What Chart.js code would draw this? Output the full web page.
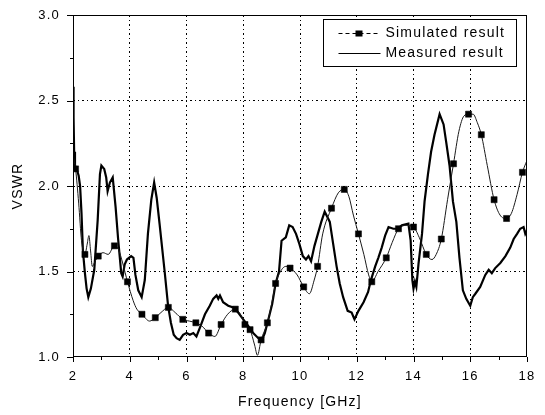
<!DOCTYPE html>
<html>
<head>
<meta charset="utf-8">
<script src="https://cdn.jsdelivr.net/npm/chart.js@4/dist/chart.umd.min.js"></script>
<style>
  html, body { margin: 0; padding: 0; background: #fff; }
  #wrap { width: 545px; height: 415px; }
</style>
</head>
<body>
<div id="wrap"><canvas id="chartVswr" width="545" height="415"></canvas></div>
<script>
// ============================================================
// VSWR vs frequency (Chart.js)
// ============================================================
Chart.defaults.color       = '#000';
Chart.defaults.font.family = '"Liberation Sans", Arial, sans-serif';

// ── data ─────────────────────────────────────────────────────────────────────
// measured curve (GHz / VSWR)
const measFreq = [
  2.00, 2.02, 2.04, 2.07, 2.13, 2.20, 2.25, 2.30, 2.35, 2.42, 2.48, 2.54, 2.63, 2.75,
  2.87, 2.95, 3.00, 3.10, 3.17, 3.22, 3.30, 3.40, 3.50, 3.59, 3.70, 3.75, 3.82, 3.90,
  4.05, 4.13, 4.20, 4.30, 4.42, 4.53, 4.64, 4.76, 4.86, 4.95, 5.05, 5.23, 5.35, 5.45,
  5.55, 5.65, 5.76, 5.88, 6.00, 6.12, 6.24, 6.35, 6.47, 6.65, 6.82, 6.94, 7.06, 7.12,
  7.18, 7.29, 7.47, 7.65, 7.82, 8.00, 8.18, 8.35, 8.53, 8.66, 8.76, 8.90, 9.02, 9.14,
  9.26, 9.35, 9.50, 9.62, 9.74, 9.86, 9.98, 10.10, 10.21, 10.30, 10.39, 10.51, 10.63,
  10.75, 10.87, 10.96, 11.05, 11.17, 11.29, 11.40, 11.52, 11.68, 11.82, 11.92, 12.06,
  12.24, 12.40, 12.50, 12.65, 12.76, 12.88, 13.00, 13.12, 13.29, 13.44, 13.59, 13.82,
  13.90, 13.96, 14.00, 14.05, 14.10, 14.18, 14.30, 14.39, 14.51, 14.62, 14.74, 14.92,
  15.06, 15.15, 15.27, 15.39, 15.51, 15.62, 15.74, 15.86, 16.00, 16.09, 16.18, 16.35,
  16.53, 16.65, 16.76, 16.88, 17.06, 17.24, 17.41, 17.53, 17.65, 17.76, 17.88, 17.94, 18.00
];
const measVswr = [
  2.58, 2.40, 2.20, 2.12, 2.10, 2.06, 2.00, 1.84, 1.62, 1.49, 1.40, 1.35, 1.40, 1.51,
  1.80, 2.07, 2.12, 2.10, 2.05, 1.97, 2.02, 2.05, 1.88, 1.69, 1.49, 1.47, 1.54, 1.57,
  1.59, 1.58, 1.48, 1.39, 1.35, 1.45, 1.72, 1.92, 2.02, 1.93, 1.78, 1.50, 1.30, 1.20,
  1.13, 1.11, 1.10, 1.13, 1.14, 1.13, 1.14, 1.12, 1.17, 1.25, 1.30, 1.34, 1.36, 1.34,
  1.36, 1.32, 1.30, 1.29, 1.26, 1.22, 1.18, 1.14, 1.11, 1.10, 1.14, 1.23, 1.31, 1.43,
  1.50, 1.68, 1.70, 1.77, 1.76, 1.72, 1.66, 1.59, 1.57, 1.59, 1.56, 1.65, 1.72,
  1.79, 1.85, 1.82, 1.79, 1.66, 1.53, 1.43, 1.35, 1.27, 1.26, 1.22, 1.27,
  1.32, 1.38, 1.45, 1.53, 1.58, 1.64, 1.71, 1.76, 1.75, 1.75, 1.77, 1.78,
  1.68, 1.45, 1.40, 1.44, 1.41, 1.55, 1.72, 1.91, 2.07, 2.20, 2.30, 2.42,
  2.36, 2.26, 2.12, 1.91, 1.79, 1.58, 1.39, 1.34, 1.30, 1.35, 1.37, 1.41,
  1.48, 1.51, 1.49, 1.52, 1.55, 1.59, 1.64, 1.69, 1.72, 1.75, 1.76, 1.72, 1.74
];

// simulated curve (GHz / VSWR)
const simFreq = [
  2.00, 2.09, 2.20, 2.30, 2.42, 2.50, 2.56, 2.62, 2.68, 2.78, 2.89, 3.06, 3.24, 3.46,
  3.60, 3.75, 3.92, 4.12, 4.25, 4.43, 4.70, 4.90, 5.10, 5.36, 5.60, 5.87, 6.10, 6.33,
  6.55, 6.78, 7.00, 7.22, 7.45, 7.72, 7.90, 8.06, 8.24, 8.40, 8.50, 8.63, 8.85, 9.00,
  9.14, 9.35, 9.50, 9.65, 9.90, 10.13, 10.33, 10.50, 10.62, 10.80, 11.11, 11.35, 11.56,
  11.72, 11.88, 12.06, 12.25, 12.42, 12.53, 12.75, 13.04, 13.25, 13.47, 13.70, 14.00,
  14.20, 14.45, 14.65, 14.80, 14.98, 15.20, 15.41, 15.60, 15.78, 15.94, 16.10, 16.25,
  16.39, 16.60, 16.84, 17.05, 17.28, 17.45, 17.65, 17.84, 18.00
];
const simVswr = [
  2.18, 2.10, 1.90, 1.68, 1.60, 1.66, 1.71, 1.62, 1.53, 1.56, 1.59, 1.61, 1.60, 1.65,
  1.63, 1.55, 1.44, 1.33, 1.28, 1.25, 1.21, 1.23, 1.26, 1.29, 1.26, 1.22, 1.21, 1.20,
  1.18, 1.14, 1.12, 1.19, 1.25, 1.28, 1.25, 1.19, 1.16, 1.07, 1.01, 1.10, 1.20, 1.31,
  1.43, 1.51, 1.53, 1.52, 1.48, 1.41, 1.37, 1.45, 1.53, 1.72, 1.87, 1.96, 1.98,
  1.94, 1.83, 1.72, 1.60, 1.48, 1.44, 1.50, 1.58, 1.67, 1.75, 1.77, 1.76,
  1.70, 1.60, 1.57, 1.60, 1.69, 1.92, 2.13, 2.32, 2.41, 2.42, 2.42, 2.37,
  2.30, 2.12, 1.92, 1.83, 1.81, 1.84, 1.95, 2.08, 2.15
];
// frequencies of the simulated samples that carry a square symbol
const simMarkers = [
  2.09, 2.42, 2.89, 3.46, 3.92, 4.43, 4.90, 5.36, 5.87, 6.33, 6.78, 7.22, 7.72, 8.06,
  8.24, 8.63, 8.85, 9.14, 9.65, 10.13, 10.62, 11.11, 11.56, 12.06, 12.53, 13.04, 13.47,
  14.00, 14.45, 14.98, 15.41, 15.94, 16.39, 16.84, 17.28, 17.84
];

const xMajor = [2, 4, 6, 8, 10, 12, 14, 16, 18];
const yMajor = [1.0, 1.5, 2.0, 2.5, 3.0];

const legendItems = ['Simulated result', 'Measured result'];

const toXY = (fs, vs) => fs.map((f, i) => ({ x: f, y: vs[i] }));
const isMajor = (list, v) => list.some(m => Math.abs(m - v) < 1e-6);

// ── frame, short ticks and boxed legend ──────────────────────────────────────
const framePlugin = {
  id: 'frame',
  beforeDraw(chart) {
    chart.ctx.letterSpacing = '1.2px';
  },
  afterDraw(chart) {
    const { ctx, chartArea: a, scales: { x, y } } = chart;
    ctx.save();
    ctx.strokeStyle = '#000';
    ctx.lineWidth = 1;
    ctx.setLineDash([]);
    ctx.strokeRect(a.left + 0.5, a.top + 0.5, a.right - a.left - 1, a.bottom - a.top - 1);

    ctx.beginPath();
    for (let v = 2; v <= 18; v++) {
      const px = Math.round(x.getPixelForValue(v)) + 0.5;
      const len = isMajor(xMajor, v) ? 5 : 3;
      ctx.moveTo(px, a.bottom);
      ctx.lineTo(px, a.bottom + len);
    }
    for (let k = 0; k <= 8; k++) {
      const v = 1 + k * 0.25;
      const py = Math.round(y.getPixelForValue(v)) + 0.5;
      const len = isMajor(yMajor, v) ? 6 : 3;
      ctx.moveTo(a.left, py);
      ctx.lineTo(a.left - len, py);
    }
    ctx.stroke();

    // legend box
    const bx = a.right - 203.5, by = a.top + 4.5, bw = 193, bh = 47;
    ctx.fillStyle = '#fff';
    ctx.fillRect(bx, by, bw, bh);
    ctx.strokeRect(bx, by, bw, bh);

    const row1 = by + 14, row2 = by + 34;
    const l0 = bx + 15, l1 = bx + 57;
    ctx.lineWidth = 1;
    ctx.setLineDash([4, 3]);
    ctx.beginPath();
    ctx.moveTo(l0, row1); ctx.lineTo(l1, row1);
    ctx.stroke();
    ctx.setLineDash([]);
    ctx.fillStyle = '#000';
    ctx.fillRect(bx + 32, row1 - 3, 7, 6);
    ctx.beginPath();
    ctx.moveTo(l0, row2); ctx.lineTo(l1, row2);
    ctx.stroke();

    ctx.font = '14px "Liberation Sans", Arial, sans-serif';
    ctx.letterSpacing = '1.2px';
    ctx.textBaseline = 'middle';
    ctx.textAlign = 'left';
    ctx.fillText(legendItems[0], bx + 62, row1);
    ctx.fillText(legendItems[1], bx + 62, row2);
    ctx.restore();
  }
};

// ── chart ────────────────────────────────────────────────────────────────────
new Chart(document.getElementById('chartVswr'), {
  type: 'line',
  data: {
    datasets: [
      {
        label: legendItems[0],
        data: toXY(simFreq, simVswr),
        borderColor: '#1a1a1a',
        borderWidth: 1,
        tension: 0.4,
        cubicInterpolationMode: 'monotone',
        pointStyle: 'rect',
        pointRadius: ctx => simMarkers.includes(simFreq[ctx.dataIndex]) ? 4.3 : 0,
        pointBackgroundColor: '#000',
        pointBorderColor: '#000',
        pointBorderWidth: 0.5,
        fill: false
      },
      {
        label: legendItems[1],
        data: toXY(measFreq, measVswr),
        borderColor: '#000',
        borderWidth: 2.2,
        tension: 0,
        pointRadius: 0,
        fill: false
      }
    ]
  },
  options: {
    responsive: false,
    animation: false,
    devicePixelRatio: 1,
    layout: { padding: { top: 15, right: 18, left: 0, bottom: 0 } },
    plugins: { legend: { display: false }, tooltip: { enabled: false } },
    scales: {
      x: {
        type: 'linear',
        min: 2, max: 18,
        afterFit: s => { s.height = 58; s.paddingLeft = 0; s.paddingRight = 0; },
        ticks: {
          stepSize: 1,
          autoSkip: false,
          maxRotation: 0,
          padding: 12,
          font: { size: 13 },
          callback: v => isMajor(xMajor, v) ? String(v) : ''
        },
        grid: {
          drawTicks: false,
          lineWidth: 1,
          color: ctx => (ctx.tick && isMajor(xMajor, ctx.tick.value) &&
                         ctx.tick.value > 2 && ctx.tick.value < 18) ? '#000' : 'rgba(0,0,0,0)'
        },
        border: { display: false, dash: [2, 3, 1, 3] },
        title: {
          display: true,
          text: 'Frequency [GHz]',
          font: { size: 14 },
          padding: { top: 4, bottom: 4 }
        }
      },
      y: {
        min: 1, max: 3,
        afterFit: s => { s.width = 73; s.paddingTop = 0; s.paddingBottom = 0; },
        ticks: {
          stepSize: 0.25,
          autoSkip: false,
          padding: 13,
          font: { size: 13 },
          callback: v => isMajor(yMajor, v) ? v.toFixed(1) : ''
        },
        grid: {
          drawTicks: false,
          lineWidth: 1,
          color: ctx => (ctx.tick && isMajor(yMajor, ctx.tick.value) &&
                         ctx.tick.value > 1 && ctx.tick.value < 3) ? '#000' : 'rgba(0,0,0,0)'
        },
        border: { display: false, dash: [2, 3, 1, 3] },
        title: {
          display: true,
          text: 'VSWR',
          font: { size: 14 },
          padding: { top: 10, bottom: 10 }
        }
      }
    }
  },
  plugins: [framePlugin]
});
</script>
</body>
</html>
